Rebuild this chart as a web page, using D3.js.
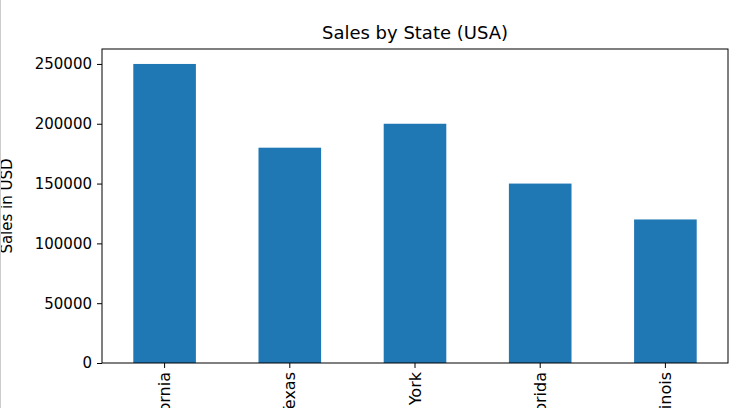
<!DOCTYPE html>
<html>
<head>
<meta charset="utf-8">
<script src="https://cdn.jsdelivr.net/npm/d3@7"></script>
<style>
  body { margin: 0; background: #fff; overflow: hidden; }
  svg { font-family: "DejaVu Sans", sans-serif; }
</style>
</head>
<body>
<div id="chart"></div>
<script>
var states = ["California", "Texas", "New York", "Florida", "Illinois"];
var sales = [250000, 180000, 200000, 150000, 120000];
var yTicks = [0, 50000, 100000, 150000, 200000, 250000];

var margin = {top: 49, left: 102},
    width = 626, height = 314;

var svg = d3.select("#chart").append("svg")
  .attr("width", 755).attr("height", 408);

var g = svg.append("g").attr("transform", "translate(" + margin.left + "," + margin.top + ")");

var x = d3.scaleBand().domain(states).range([0, width]).paddingInner(0.5).paddingOuter(0.25);
var y = d3.scaleLinear().domain([0, 262500]).range([height, 0]);

g.selectAll("rect").data(sales).enter().append("rect")
  .attr("x", function(d, i) { return x(states[i]); })
  .attr("width", x.bandwidth())
  .attr("y", function(d) { return y(d); })
  .attr("height", function(d) { return height - y(d); })
  .attr("fill", "#1f77b4");

var yAxis = g.append("g").call(d3.axisLeft(y).tickValues(yTicks).tickSize(5).tickPadding(5).tickFormat(d3.format("d")));
var xAxis = g.append("g").attr("transform", "translate(0," + height + ")")
  .call(d3.axisBottom(x).tickSize(5).tickPadding(5));

[yAxis, xAxis].forEach(function(a) {
  a.selectAll("text").attr("font-size", 15).attr("fill", "#000").attr("font-family", "DejaVu Sans, sans-serif");
  a.select(".domain").remove();
  a.selectAll("line").attr("stroke", "#000");
});

xAxis.selectAll("text")
  .attr("font-size", 16)
  .attr("transform", "rotate(-90)")
  .attr("text-anchor", "end")
  .attr("x", -9).attr("y", 0).attr("dy", "0.35em");

g.append("rect").attr("width", width).attr("height", height)
  .attr("fill", "none").attr("stroke", "#000").attr("stroke-width", 1);

svg.append("text").attr("x", margin.left + width / 2).attr("y", 39)
  .attr("text-anchor", "middle").attr("font-size", 18).text("Sales by State (USA)");

svg.append("text").attr("transform", "translate(12," + (margin.top + height / 2) + ") rotate(-90)")
  .attr("text-anchor", "middle").attr("font-size", 15).text("Sales in USD");

svg.append("line").attr("x1", 0.5).attr("x2", 0.5).attr("y1", 0).attr("y2", 408)
  .attr("stroke", "#ccc");
</script>
</body>
</html>
